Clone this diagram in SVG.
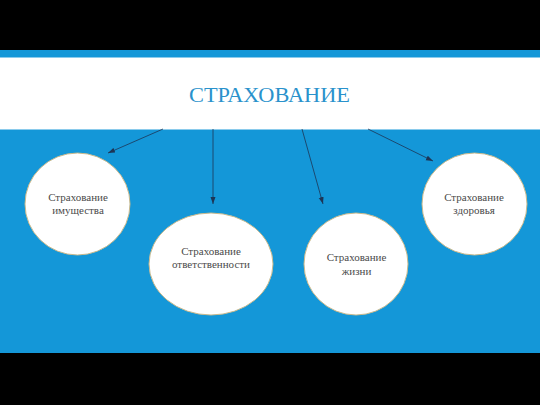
<svg xmlns="http://www.w3.org/2000/svg" width="540" height="405" viewBox="0 0 540 405">
<defs>
<marker id="ah" markerWidth="8" markerHeight="6" refX="7" refY="3" orient="auto" markerUnits="userSpaceOnUse">
<path d="M0,0.5 L7,3 L0,5.5 z" fill="#1d3556"/>
</marker>
<style>
.node ellipse{fill:#ffffff;stroke:#c9b98c;stroke-width:1}
.lbl{font-family:"Liberation Serif","DejaVu Serif",serif;font-size:11px;fill:#4a4a4a;text-anchor:middle}
.conn line{stroke:#1d3556;stroke-width:0.8;marker-end:url(#ah)}
</style>
</defs>
<rect x="0" y="0" width="540" height="405" fill="#000000"/>
<rect x="0" y="50" width="540" height="303" fill="#1497d8"/>
<rect x="0" y="57.5" width="540" height="72" fill="#ffffff"/>
<text x="269.5" y="101.5" font-family="'Liberation Serif','DejaVu Serif',serif" font-size="20.5" fill="#2a92cc" text-anchor="middle" textLength="161" lengthAdjust="spacingAndGlyphs">СТРАХОВАНИЕ</text>
<g id="connectors" class="conn">
<line x1="163" y1="129" x2="108" y2="153"/>
<line x1="213" y1="129" x2="213" y2="204"/>
<line x1="302" y1="129" x2="323" y2="204"/>
<line x1="368" y1="129" x2="433" y2="161"/>
</g>
<g id="node-property" class="node">
<ellipse cx="77.5" cy="204" rx="52.5" ry="51"/>
<text class="lbl" x="78" y="201">Страхование</text>
<text class="lbl" x="78" y="214">имущества</text>
</g>
<g id="node-liability" class="node">
<ellipse cx="211" cy="264" rx="62" ry="51"/>
<text class="lbl" x="211" y="255">Страхование</text>
<text class="lbl" x="211" y="268">ответственности</text>
</g>
<g id="node-life" class="node">
<ellipse cx="356" cy="264" rx="52" ry="51"/>
<text class="lbl" x="356.5" y="261">Страхование</text>
<text class="lbl" x="356.5" y="275">жизни</text>
</g>
<g id="node-health" class="node">
<ellipse cx="474.5" cy="204" rx="52.5" ry="51"/>
<text class="lbl" x="474" y="201">Страхование</text>
<text class="lbl" x="474" y="214">здоровья</text>
</g>
</svg>
